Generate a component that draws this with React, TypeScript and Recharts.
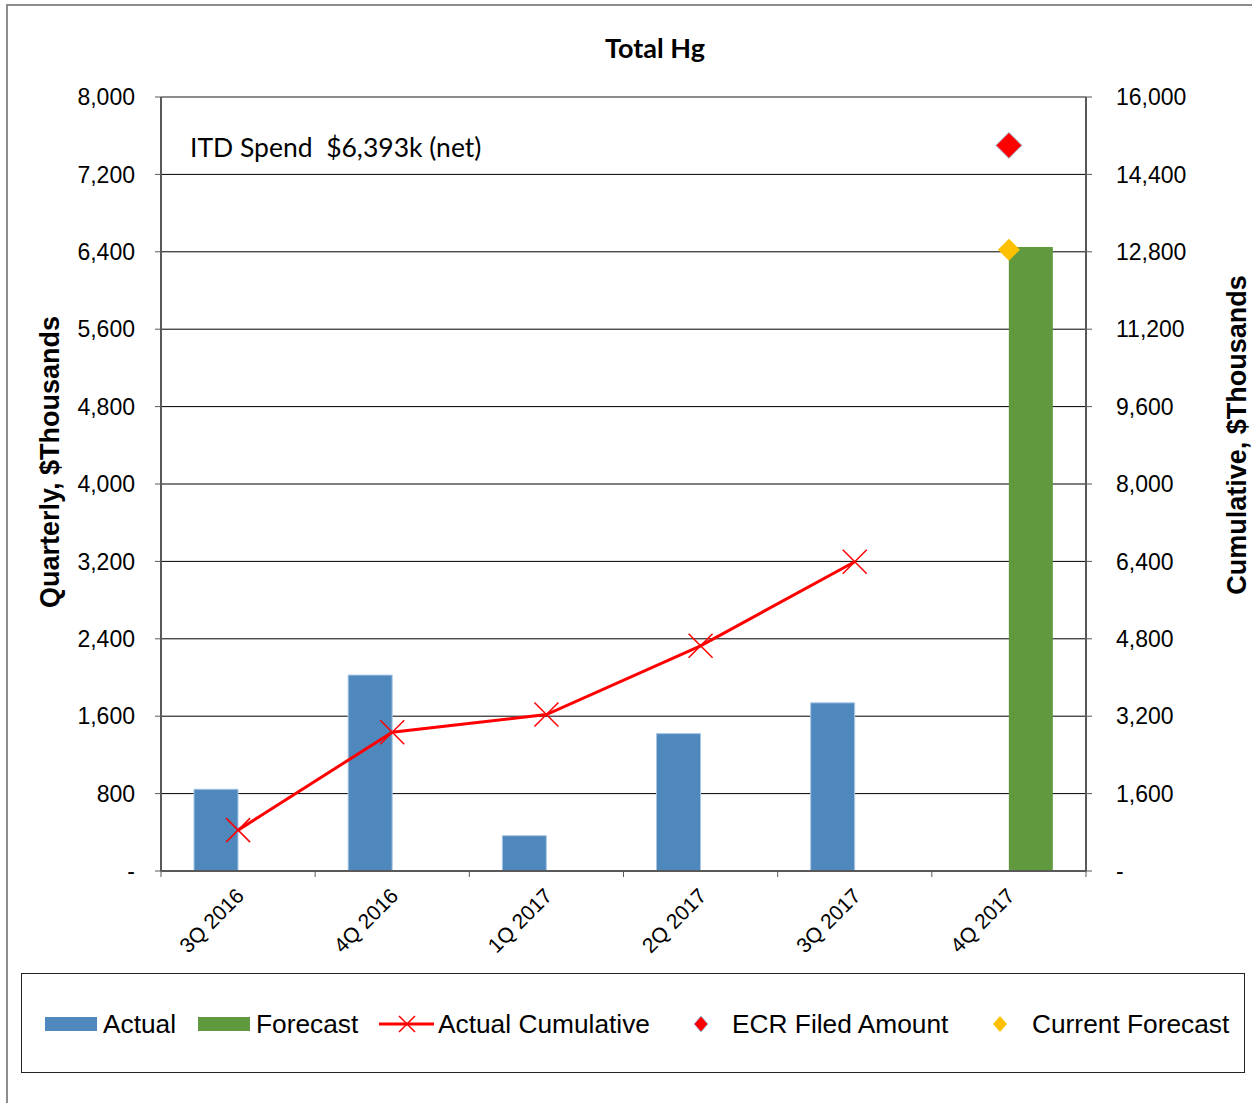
import { ComposedChart, Bar, Line, XAxis, YAxis, CartesianGrid, ReferenceLine } from "recharts"

const quarters = ["3Q 2016", "4Q 2016", "1Q 2017", "2Q 2017", "3Q 2017", "4Q 2017"]
const actual = [845, 2025, 365, 1420, 1738, null]
const forecast = [null, null, null, null, null, 6450]
const actualCumulative = [845, 2870, 3235, 4655, 6393, null]
const ecrFiled = [null, null, null, null, null, 15000]
const currentForecast = [null, null, null, null, null, 12843]

const leftTicks = [0, 800, 1600, 2400, 3200, 4000, 4800, 5600, 6400, 7200, 8000]
const rightTicks = [0, 1600, 3200, 4800, 6400, 8000, 9600, 11200, 12800, 14400, 16000]

const BLUE = "#4f88bc"
const GREEN = "#619a3e"
const RED = "#ff0000"
const GOLD = "#ffc000"

const data = quarters.map((q, i) => ({
  quarter: q,
  actual: actual[i],
  forecast: forecast[i],
  cumulative: actualCumulative[i],
  ecr: ecrFiled[i],
  current: currentForecast[i],
}))

const fmt = (v: number) => (v === 0 ? "-" : v.toLocaleString("en-US"))

const CrossDot = (props: any) => {
  const { cx, cy, value } = props
  if (value == null || cx == null || cy == null) return null
  const r = 12
  return (
    <path
      key={`x-${cx}`}
      d={`M${cx - r},${cy - r}L${cx + r},${cy + r}M${cx - r},${cy + r}L${cx + r},${cy - r}`}
      stroke={RED}
      strokeWidth={1.5}
      fill="none"
    />
  )
}

const diamond = (fill: string, r: number, stroke?: string) => (props: any) => {
  const { cx, cy, value } = props
  if (value == null || cx == null || cy == null) return null
  return (
    <path
      key={`d-${cx}-${fill}`}
      d={`M${cx},${cy - r}L${cx + r},${cy}L${cx},${cy + r}L${cx - r},${cy}Z`}
      fill={fill}
      stroke={stroke ?? "none"}
      strokeWidth={1}
    />
  )
}

// rotated quarter label, plus the tick marks on the category boundaries (Excel style)
const QuarterTick = (props: any) => {
  const { x, y, payload, index, visibleTicksCount } = props
  const half = payload?.offset ?? 925 / 12
  const axisY = y - 2
  const ax = x + 2
  const ay = y + 19
  const isLast = index === visibleTicksCount - 1
  return (
    <g>
      <line x1={x - half} y1={axisY} x2={x - half} y2={axisY + 6} stroke="#595959" strokeWidth={1} />
      {isLast && <line x1={x + half} y1={axisY} x2={x + half} y2={axisY + 6} stroke="#595959" strokeWidth={1} />}
      <text
        x={ax}
        y={ay}
        dy="0.35em"
        textAnchor="end"
        transform={`rotate(-45 ${ax} ${ay})`}
        fontFamily="'Liberation Sans', Arial, sans-serif"
        fontSize={21}
        fill="#000"
      >
        {payload.value}
      </text>
    </g>
  )
}

const tickFont = { fontFamily: "'Liberation Sans', Arial, sans-serif", fontSize: 23, fill: "#000" }
const axisLine = { stroke: "#595959", strokeWidth: 2 }

export default function App() {
  const legendFont = "'Liberation Sans', Arial, sans-serif"
  return (
    <div style={{ position: "absolute", left: 0, top: 0, width: 1252, height: 1103, background: "#fff" }}>
      {/* outer frame */}
      <div
        style={{
          position: "absolute",
          left: 6,
          top: 4,
          width: 1252,
          height: 1103,
          borderLeft: "2px solid #8c8c8c",
          borderTop: "2px solid #8c8c8c",
        }}
      />

      <div style={{ position: "absolute", left: 0, top: 0 }}>
        <ComposedChart
          width={1252}
          height={1000}
          data={data}
          margin={{ top: 97, right: 0, bottom: 0, left: 0 }}
          barGap={0}
        >
          <CartesianGrid vertical={false} stroke="#000" strokeWidth={1} yAxisId="left" />
          <XAxis
            dataKey="quarter"
            height={129}
            tick={<QuarterTick />}
            tickSize={0}
            tickMargin={2}
            tickLine={false}
            axisLine={axisLine}
            interval={0}
          />
          <YAxis
            yAxisId="left"
            width={161}
            domain={[0, 8000]}
            ticks={leftTicks}
            tickFormatter={fmt}
            tick={tickFont}
            tickSize={6}
            tickMargin={20}
            axisLine={axisLine}
            tickLine={{ stroke: "#595959" }}
          />
          <YAxis
            yAxisId="right"
            orientation="right"
            width={166}
            domain={[0, 16000]}
            ticks={rightTicks}
            tickFormatter={fmt}
            tick={{ ...tickFont, textAnchor: "start" }}
            tickSize={6}
            tickMargin={24}
            axisLine={axisLine}
            tickLine={{ stroke: "#595959" }}
          />
          <ReferenceLine yAxisId="left" y={8000} stroke="#8c8c8c" strokeWidth={2} />
          <Bar yAxisId="left" dataKey="actual" name="Actual" fill={BLUE} stroke="#a9c6e4" strokeWidth={1} barSize={44} isAnimationActive={false} />
          <Bar yAxisId="left" dataKey="forecast" name="Forecast" fill={GREEN} barSize={44} isAnimationActive={false} />
          <Line
            yAxisId="right"
            dataKey="cumulative"
            name="Actual Cumulative"
            type="linear"
            stroke={RED}
            strokeWidth={3}
            dot={CrossDot}
            activeDot={false}
            isAnimationActive={false}
          />
          <Line
            yAxisId="right"
            dataKey="ecr"
            name="ECR Filed Amount"
            stroke="none"
            dot={diamond(RED, 13, "#9dc3e6")}
            activeDot={false}
            isAnimationActive={false}
          />
          <Line
            yAxisId="right"
            dataKey="current"
            name="Current Forecast"
            stroke="none"
            dot={diamond(GOLD, 11)}
            activeDot={false}
            isAnimationActive={false}
          />
        </ComposedChart>
      </div>

      {/* titles and notes */}
      <svg width={1252} height={960} style={{ position: "absolute", left: 0, top: 0, pointerEvents: "none" }}>
        <text x={655} y={58} textAnchor="middle" fontFamily="Lato, 'Open Sans', sans-serif" fontWeight={700} fontSize={27}>
          Total Hg
        </text>
        <text x={190} y={157} fontFamily="Lato, 'Open Sans', sans-serif" fontSize={26.5} xmlSpace="preserve">
          ITD Spend  $6,393k (net)
        </text>
        <text
          x={59}
          y={462}
          textAnchor="middle"
          transform="rotate(-90 59 462)"
          fontFamily="'Liberation Sans', Arial, sans-serif"
          fontWeight={700}
          fontSize={27}
        >
          Quarterly, $Thousands
        </text>
        <text
          x={1246}
          y={435}
          textAnchor="middle"
          transform="rotate(-90 1246 435)"
          fontFamily="'Liberation Sans', Arial, sans-serif"
          fontWeight={700}
          fontSize={27}
        >
          Cumulative, $Thousands
        </text>
      </svg>

      {/* legend */}
      <div
        style={{
          position: "absolute",
          left: 21,
          top: 973,
          width: 1222,
          height: 98,
          border: "1px solid #222",
          fontFamily: legendFont,
          fontSize: 26,
          color: "#000",
        }}
      >
        <svg width={1222} height={98} style={{ position: "absolute", left: 0, top: 0 }}>
          <rect x={23} y={43} width={52} height={14} fill={BLUE} />
          <rect x={176} y={43} width={52} height={14} fill={GREEN} />
          <line x1={357} y1={50} x2={412} y2={50} stroke={RED} strokeWidth={3} />
          <path d="M377,42L393,58M377,58L393,42" stroke={RED} strokeWidth={1.5} />
          <path d="M679,42L686,50L679,58L672,50Z" fill={RED} stroke="#9dc3e6" strokeWidth={1} />
          <path d="M978,42L985,50L978,58L971,50Z" fill={GOLD} />
          <text x={81} y={59} fontFamily={legendFont} fontSize={26.3}>Actual</text>
          <text x={234} y={59} fontFamily={legendFont} fontSize={26.3}>Forecast</text>
          <text x={416} y={59} fontFamily={legendFont} fontSize={26.3}>Actual Cumulative</text>
          <text x={710} y={59} fontFamily={legendFont} fontSize={26.3}>ECR Filed Amount</text>
          <text x={1010} y={59} fontFamily={legendFont} fontSize={26.3}>Current Forecast</text>
        </svg>
      </div>
    </div>
  )
}
